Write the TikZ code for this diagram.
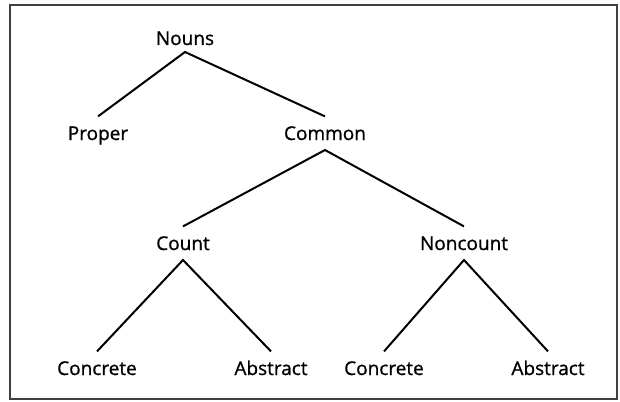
\documentclass[tikz,border=0pt]{standalone}
\usepackage{fontspec}
\setmainfont{Open Sans}
\newfontfamily\labelfont[FakeBold=0.9]{Open Sans}
\begin{document}
\begin{tikzpicture}[x=1pt,y=-1pt,
  term/.style={font=\labelfont\fontsize{19}{22}\selectfont, inner sep=0pt, text height=13.6pt, text depth=0pt, outer ysep=10pt, anchor=base},
  branch/.style={line width=2pt, black},
  frame/.style={line width=1.4pt, black!75}]
\useasboundingbox (0,0) rectangle (620,401);
\draw[frame] (10,5) rectangle (617,399);
\node[term, outer ysep=7pt] (nouns) at (185,45) {Nouns};
\node[term] (proper) at (98,140) {Proper};
\node[term] (common) at (325,140) {Common};
\node[term] (count) at (183,250) {Count};
\node[term] (noncount) at (464,250) {Noncount};
\node[term] (concreteA) at (97,375) {Concrete};
\node[term] (abstractA) at (271,375) {Abstract};
\node[term] (concreteB) at (384,375) {Concrete};
\node[term] (abstractB) at (548,375) {Abstract};
\draw[branch] (proper.north) -- (nouns.south) -- (common.north);
\draw[branch] (count.north) -- (common.south) -- (noncount.north);
\draw[branch] (concreteA.north) -- (count.south) -- (abstractA.north);
\draw[branch] (concreteB.north) -- (noncount.south) -- (abstractB.north);
\end{tikzpicture}
\end{document}
